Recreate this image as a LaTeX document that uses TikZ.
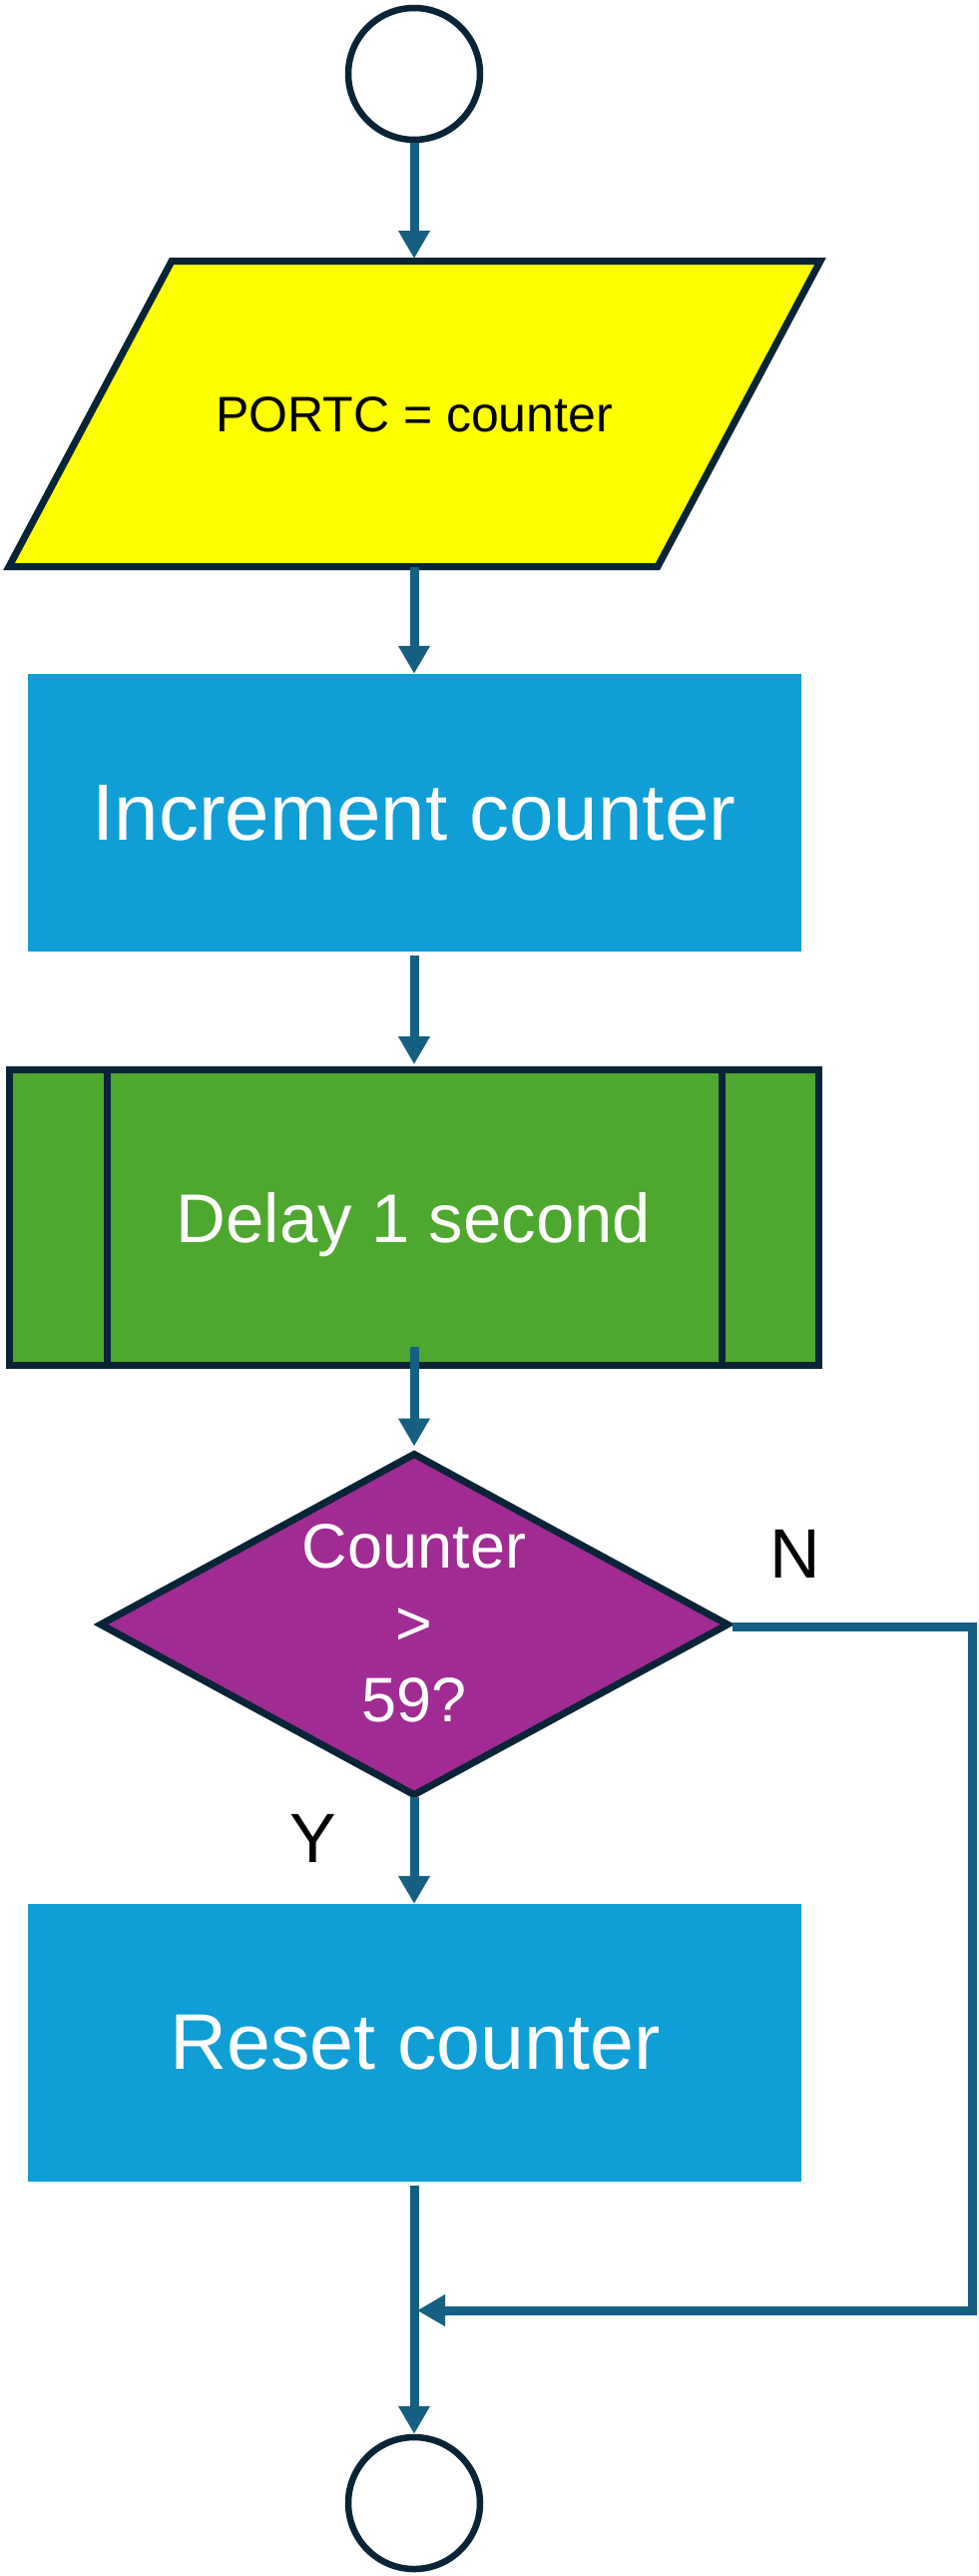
\documentclass[tikz,border=0pt]{standalone}
\usepackage{fontspec}
\setmainfont{Liberation Sans}
\usetikzlibrary{arrows.meta,shapes.geometric}
\definecolor{bord}{HTML}{082436}
\definecolor{conn}{HTML}{156082}
\definecolor{boxblue}{HTML}{0F9ED5}
\definecolor{boxgreen}{HTML}{4EA72E}
\definecolor{boxpurple}{HTML}{A02B93}
\definecolor{ioyellow}{HTML}{FFFF00}
\begin{document}
\begin{tikzpicture}[x=1pt,y=-1pt,
  term/.style={circle,draw=bord,line width=6.5pt,fill=white,minimum size=132pt,inner sep=0pt},
  procbox/.style={rectangle,fill=boxblue,minimum width=775pt,minimum height=278pt,inner sep=0pt},
  subbox/.style={rectangle,draw=bord,line width=7pt,fill=boxgreen,minimum width=811pt,minimum height=296pt,inner sep=0pt},
  decbox/.style={diamond,draw=bord,line width=7pt,fill=boxpurple,minimum width=631pt,minimum height=344pt,inner sep=0pt},
  iobox/.style={fill=ioyellow,draw=bord,line width=7pt,line join=miter},
  flow/.style={draw=conn,line width=9pt,-{Triangle[width=30pt,length=28pt]}},
  txt/.style={inner sep=0pt,anchor=base},
  lbl/.style={inner sep=0pt,anchor=base,font=\fontsize{70}{84}\selectfont}]
\useasboundingbox[fill=white] (0,0) rectangle (980,2580);

% shapes
\node[term] (start) at (415,74) {};
\filldraw[iobox] (172,261.5) -- (822,261.5) -- (659,567.5) -- (9,567.5) -- cycle;
\node[txt,font=\fontsize{50}{60}\selectfont] (io) at (415,432) {PORTC = counter};
\coordinate (iotop) at (415,259);
\coordinate (iobot) at (415,568);
\node[procbox] (inc) at (415.5,814) {};
\node[txt,text=white,font=\fontsize{80}{96}\selectfont] (inctxt) at (415,841) {Increment counter};
\node[subbox] (delay) at (415,1219.5) {};
\draw[bord,line width=7pt] ([xshift=101pt]delay.north west) -- ([xshift=101pt]delay.south west);
\draw[bord,line width=7pt] ([xshift=-101pt]delay.north east) -- ([xshift=-101pt]delay.south east);
\node[txt,text=white,font=\fontsize{69}{83}\selectfont] (delaytxt) at (414.5,1244.5) {Delay 1 second};
\node[decbox] (dec) at (415,1627) {};
\node[inner sep=0pt,text=white,align=center,font=\fontsize{63}{77}\selectfont] (dectxt) at (415,1626) {Counter\\>\\59?};
\node[procbox] (reset) at (415.5,2046) {};
\node[txt,text=white,font=\fontsize{79}{95}\selectfont] (resettxt) at (416,2072) {Reset counter};
\node[term] (end) at (415,2507) {};

% labels
\node[lbl] (nlbl) at (797,1580) {N};
\node[lbl] (ylbl) at (314,1865) {Y};

% connectors
\coordinate (delayout) at (415,1349);
\coordinate (nr) at (974,1629);
\coordinate (nb) at (974,2314);
\coordinate (merge) at (418,2314);
\draw[flow] (start.south) -- (iotop);
\draw[flow] (iobot) -- (inc.north -| start);
\draw[flow] ([yshift=-4pt]inc.south -| start) -- ([yshift=2pt]delay.north -| start);
\draw[flow] (delayout) -- ([yshift=3pt]dec.north);
\draw[flow] ([yshift=3pt]dec.south) -- (reset.north -| start);
\draw[flow,line join=miter] (dec.east |- nr) -- (nr) -- (nb) -- (merge);
\draw[flow] ([yshift=-4pt]reset.south -| start) -- (end.north);
\end{tikzpicture}
\end{document}
